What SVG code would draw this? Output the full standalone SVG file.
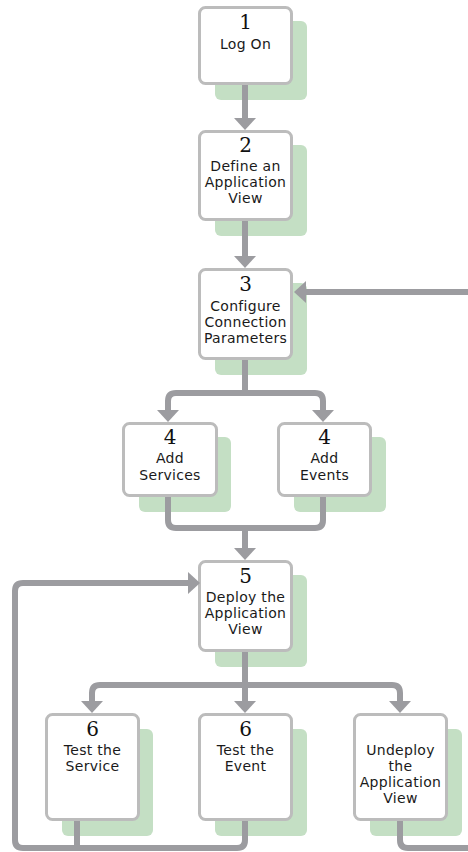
<svg xmlns="http://www.w3.org/2000/svg" width="468" height="852" viewBox="0 0 468 852">
  <style>
    .shadow { fill: #c4dfc4; }
    .box { fill: #ffffff; stroke: #bcbcbc; stroke-width: 3; }
    .num { font-family: "DejaVu Serif", "Liberation Serif", serif; font-size: 20px; fill: #111; text-anchor: middle; }
    .lbl { font-family: "DejaVu Sans", "Liberation Sans", sans-serif; font-size: 14px; letter-spacing: 0.3px; fill: #1a1a1a; text-anchor: middle; }
    .wire { fill: none; stroke: #9c9ca0; stroke-width: 6; }
    .arr { fill: none; stroke: #9c9ca0; stroke-width: 6; marker-end: url(#head); }
  </style>
  <defs>
    <marker id="head" viewBox="0 -11 12 22" markerUnits="userSpaceOnUse" markerWidth="12" markerHeight="22" refX="0" refY="0" orient="auto" overflow="visible">
      <path d="M0,-11 L12,0 L0,11 Z" fill="#9c9ca0"/>
    </marker>
  </defs>

  <rect width="468" height="852" fill="#ffffff"/>

  <g id="step1">
    <rect class="shadow" x="215" y="21" width="92" height="79" rx="6"/>
    <rect class="box" x="199.5" y="7.5" width="92" height="76" rx="6"/>
    <text class="num" x="245.5" y="29">1</text>
    <text class="lbl" x="245.5" y="49">Log On</text>
  </g>

  <g id="step2">
    <rect class="shadow" x="215" y="145" width="92" height="91" rx="6"/>
    <rect class="box" x="199.5" y="131.5" width="92" height="88" rx="6"/>
    <text class="num" x="245.5" y="152">2</text>
    <text class="lbl" x="245.5" y="171">Define an</text>
    <text class="lbl" x="245.5" y="187">Application</text>
    <text class="lbl" x="245.5" y="203">View</text>
  </g>

  <g id="step3">
    <rect class="shadow" x="215" y="283" width="92" height="92" rx="6"/>
    <rect class="box" x="199.5" y="269.5" width="92" height="89" rx="6"/>
    <text class="num" x="245.5" y="291">3</text>
    <text class="lbl" x="245.5" y="311">Configure</text>
    <text class="lbl" x="245.5" y="327">Connection</text>
    <text class="lbl" x="245.5" y="343">Parameters</text>
  </g>

  <g id="step4-services">
    <rect class="shadow" x="139" y="437" width="92" height="75" rx="6"/>
    <rect class="box" x="123.5" y="423.5" width="93" height="72" rx="6"/>
    <text class="num" x="170" y="444">4</text>
    <text class="lbl" x="170" y="463">Add</text>
    <text class="lbl" x="170" y="480">Services</text>
  </g>

  <g id="step4-events">
    <rect class="shadow" x="294" y="437" width="92" height="75" rx="6"/>
    <rect class="box" x="278.5" y="423.5" width="92" height="72" rx="6"/>
    <text class="num" x="324.5" y="444">4</text>
    <text class="lbl" x="324.5" y="463">Add</text>
    <text class="lbl" x="324.5" y="480">Events</text>
  </g>

  <g id="step5">
    <rect class="shadow" x="215" y="575" width="92" height="92" rx="6"/>
    <rect class="box" x="199.5" y="561.5" width="92" height="89" rx="6"/>
    <text class="num" x="245.5" y="583">5</text>
    <text class="lbl" x="245.5" y="602">Deploy the</text>
    <text class="lbl" x="245.5" y="618">Application</text>
    <text class="lbl" x="245.5" y="634">View</text>
  </g>

  <g id="step6-service">
    <rect class="shadow" x="62" y="729" width="91" height="107" rx="6"/>
    <rect class="box" x="46.5" y="714.5" width="92" height="105" rx="6"/>
    <text class="num" x="92.5" y="736">6</text>
    <text class="lbl" x="92.5" y="755">Test the</text>
    <text class="lbl" x="92.5" y="771">Service</text>
  </g>

  <g id="step6-event">
    <rect class="shadow" x="215" y="729" width="92" height="107" rx="6"/>
    <rect class="box" x="199.5" y="714.5" width="92" height="105" rx="6"/>
    <text class="num" x="245.5" y="736">6</text>
    <text class="lbl" x="245.5" y="755">Test the</text>
    <text class="lbl" x="245.5" y="771">Event</text>
  </g>

  <g id="undeploy">
    <rect class="shadow" x="370" y="729" width="92" height="107" rx="6"/>
    <rect class="box" x="354.5" y="714.5" width="92" height="105" rx="6"/>
    <text class="lbl" x="400.5" y="755">Undeploy</text>
    <text class="lbl" x="400.5" y="771">the</text>
    <text class="lbl" x="400.5" y="787">Application</text>
    <text class="lbl" x="400.5" y="803">View</text>
  </g>

  <!-- connectors, drawn over the drop shadows -->
  <g id="connectors">
    <path class="arr" d="M245,85 V118"/>
    <path class="arr" d="M245,221 V256"/>
    <!-- return into step 3 from the right -->
    <path class="arr" d="M472,292 H306"/>
    <!-- split after step 3 -->
    <path class="wire" d="M245,360 V393"/>
    <path class="arr" d="M245,393 H176 Q168,393 168,401 V410"/>
    <path class="arr" d="M245,393 H315 Q323,393 323,401 V410"/>
    <!-- merge into step 5 -->
    <path class="wire" d="M168,497 V520 Q168,528 176,528 H315 Q323,528 323,520 V497"/>
    <path class="arr" d="M245,528 V548"/>
    <!-- split after step 5 -->
    <path class="wire" d="M245,652 V685"/>
    <path class="arr" d="M245,685 H100 Q92,685 92,693 V701"/>
    <path class="arr" d="M245,685 H392 Q400,685 400,693 V701"/>
    <path class="arr" d="M245,685 V701"/>
    <!-- loop back to step 5 -->
    <path class="arr" d="M245,821 V840 Q245,848 237,848 H23 Q15,848 15,840 V591 Q15,583 23,583 H188"/>
    <path class="wire" d="M77,821 V848"/>
    <!-- undeploy returns off to the right -->
    <path class="wire" d="M400,821 V840 Q400,848 408,848 H472"/>
  </g>
</svg>
